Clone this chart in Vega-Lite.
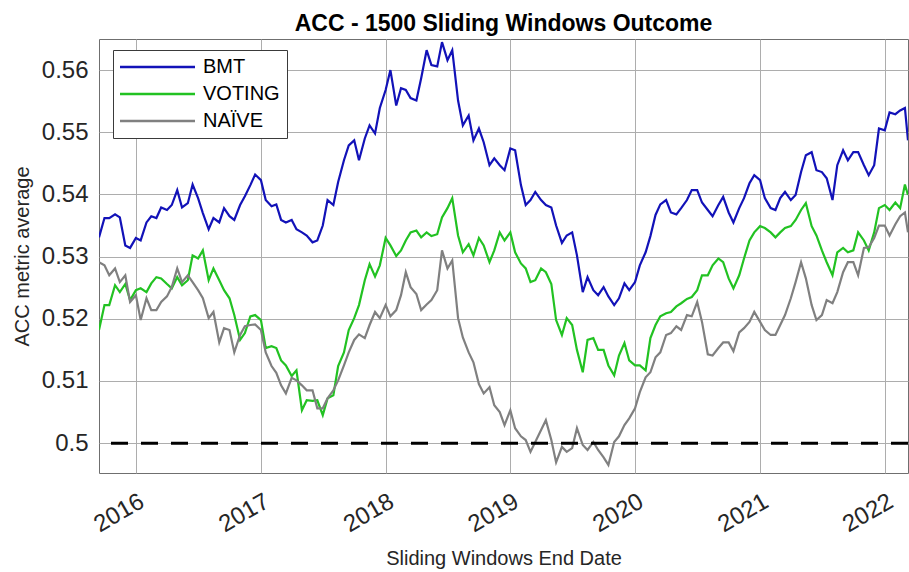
{
  "$schema": "https://vega.github.io/schema/vega-lite/v6.json",
  "autosize": {"type": "none"},
  "padding": {"left": 99, "top": 39, "right": 1, "bottom": 99},
  "width": 809,
  "height": 434,
  "background": "white",
  "config": {
    "font": "Liberation Sans",
    "view": {"stroke": "#6f6f6f", "strokeWidth": 1}
  },
  "title": {
    "text": "ACC - 1500 Sliding Windows Outcome",
    "fontSize": 23,
    "fontWeight": "bold",
    "color": "#000000",
    "font": "Liberation Sans",
    "anchor": "middle",
    "frame": "group",
    "offset": 3
  },
  "layer": [
    {
      "data": {
        "values": [
          {"date": "2015-09-15", "BMT": 0.5331, "VOTING": 0.5182, "NAÏVE": 0.5291},
          {"date": "2015-10-01", "BMT": 0.5362, "VOTING": 0.5222, "NAÏVE": 0.5286},
          {"date": "2015-10-15", "BMT": 0.5362, "VOTING": 0.5222, "NAÏVE": 0.5270},
          {"date": "2015-11-01", "BMT": 0.5368, "VOTING": 0.5254, "NAÏVE": 0.5281},
          {"date": "2015-11-15", "BMT": 0.5363, "VOTING": 0.5243, "NAÏVE": 0.5259},
          {"date": "2015-12-01", "BMT": 0.5318, "VOTING": 0.5256, "NAÏVE": 0.5270},
          {"date": "2015-12-15", "BMT": 0.5314, "VOTING": 0.5230, "NAÏVE": 0.5227},
          {"date": "2016-01-01", "BMT": 0.5330, "VOTING": 0.5246, "NAÏVE": 0.5238},
          {"date": "2016-01-15", "BMT": 0.5326, "VOTING": 0.5249, "NAÏVE": 0.5198},
          {"date": "2016-02-01", "BMT": 0.5355, "VOTING": 0.5243, "NAÏVE": 0.5233},
          {"date": "2016-02-15", "BMT": 0.5365, "VOTING": 0.5257, "NAÏVE": 0.5214},
          {"date": "2016-03-01", "BMT": 0.5362, "VOTING": 0.5267, "NAÏVE": 0.5214},
          {"date": "2016-03-15", "BMT": 0.5379, "VOTING": 0.5265, "NAÏVE": 0.5227},
          {"date": "2016-04-01", "BMT": 0.5375, "VOTING": 0.5256, "NAÏVE": 0.5236},
          {"date": "2016-04-15", "BMT": 0.5383, "VOTING": 0.5249, "NAÏVE": 0.5251},
          {"date": "2016-05-01", "BMT": 0.5407, "VOTING": 0.5267, "NAÏVE": 0.5281},
          {"date": "2016-05-15", "BMT": 0.5379, "VOTING": 0.5254, "NAÏVE": 0.5259},
          {"date": "2016-06-01", "BMT": 0.5386, "VOTING": 0.5262, "NAÏVE": 0.5270},
          {"date": "2016-06-15", "BMT": 0.5416, "VOTING": 0.5302, "NAÏVE": 0.5259},
          {"date": "2016-07-01", "BMT": 0.5394, "VOTING": 0.5297, "NAÏVE": 0.5246},
          {"date": "2016-07-15", "BMT": 0.5370, "VOTING": 0.5310, "NAÏVE": 0.5233},
          {"date": "2016-08-01", "BMT": 0.5344, "VOTING": 0.5262, "NAÏVE": 0.5201},
          {"date": "2016-08-15", "BMT": 0.5362, "VOTING": 0.5281, "NAÏVE": 0.5211},
          {"date": "2016-09-01", "BMT": 0.5355, "VOTING": 0.5262, "NAÏVE": 0.5162},
          {"date": "2016-09-15", "BMT": 0.5378, "VOTING": 0.5246, "NAÏVE": 0.5185},
          {"date": "2016-10-01", "BMT": 0.5365, "VOTING": 0.5233, "NAÏVE": 0.5182},
          {"date": "2016-10-15", "BMT": 0.5359, "VOTING": 0.5206, "NAÏVE": 0.5146},
          {"date": "2016-11-01", "BMT": 0.5383, "VOTING": 0.5166, "NAÏVE": 0.5174},
          {"date": "2016-11-15", "BMT": 0.5397, "VOTING": 0.5177, "NAÏVE": 0.5188},
          {"date": "2016-12-01", "BMT": 0.5415, "VOTING": 0.5204, "NAÏVE": 0.5190},
          {"date": "2016-12-15", "BMT": 0.5432, "VOTING": 0.5206, "NAÏVE": 0.5191},
          {"date": "2017-01-01", "BMT": 0.5423, "VOTING": 0.5198, "NAÏVE": 0.5182},
          {"date": "2017-01-15", "BMT": 0.5391, "VOTING": 0.5153, "NAÏVE": 0.5146},
          {"date": "2017-02-01", "BMT": 0.5381, "VOTING": 0.5156, "NAÏVE": 0.5124},
          {"date": "2017-02-15", "BMT": 0.5384, "VOTING": 0.5153, "NAÏVE": 0.5113},
          {"date": "2017-03-01", "BMT": 0.5359, "VOTING": 0.5133, "NAÏVE": 0.5093},
          {"date": "2017-03-15", "BMT": 0.5355, "VOTING": 0.5125, "NAÏVE": 0.5080},
          {"date": "2017-04-01", "BMT": 0.5359, "VOTING": 0.5108, "NAÏVE": 0.5105},
          {"date": "2017-04-15", "BMT": 0.5344, "VOTING": 0.5117, "NAÏVE": 0.5101},
          {"date": "2017-05-01", "BMT": 0.5339, "VOTING": 0.5053, "NAÏVE": 0.5093},
          {"date": "2017-05-15", "BMT": 0.5334, "VOTING": 0.5069, "NAÏVE": 0.5085},
          {"date": "2017-06-01", "BMT": 0.5323, "VOTING": 0.5068, "NAÏVE": 0.5085},
          {"date": "2017-06-15", "BMT": 0.5326, "VOTING": 0.5069, "NAÏVE": 0.5056},
          {"date": "2017-07-01", "BMT": 0.5350, "VOTING": 0.5045, "NAÏVE": 0.5056},
          {"date": "2017-07-15", "BMT": 0.5391, "VOTING": 0.5072, "NAÏVE": 0.5072},
          {"date": "2017-08-01", "BMT": 0.5383, "VOTING": 0.5077, "NAÏVE": 0.5085},
          {"date": "2017-08-15", "BMT": 0.5420, "VOTING": 0.5124, "NAÏVE": 0.5101},
          {"date": "2017-09-01", "BMT": 0.5455, "VOTING": 0.5146, "NAÏVE": 0.5125},
          {"date": "2017-09-15", "BMT": 0.5479, "VOTING": 0.5182, "NAÏVE": 0.5146},
          {"date": "2017-10-01", "BMT": 0.5487, "VOTING": 0.5201, "NAÏVE": 0.5166},
          {"date": "2017-10-15", "BMT": 0.5455, "VOTING": 0.5222, "NAÏVE": 0.5175},
          {"date": "2017-11-01", "BMT": 0.5490, "VOTING": 0.5262, "NAÏVE": 0.5169},
          {"date": "2017-11-15", "BMT": 0.5511, "VOTING": 0.5288, "NAÏVE": 0.5190},
          {"date": "2017-12-01", "BMT": 0.5498, "VOTING": 0.5268, "NAÏVE": 0.5211},
          {"date": "2017-12-15", "BMT": 0.5539, "VOTING": 0.5286, "NAÏVE": 0.5201},
          {"date": "2018-01-01", "BMT": 0.5568, "VOTING": 0.5330, "NAÏVE": 0.5222},
          {"date": "2018-01-15", "BMT": 0.5600, "VOTING": 0.5318, "NAÏVE": 0.5204},
          {"date": "2018-02-01", "BMT": 0.5543, "VOTING": 0.5301, "NAÏVE": 0.5214},
          {"date": "2018-02-15", "BMT": 0.5571, "VOTING": 0.5310, "NAÏVE": 0.5238},
          {"date": "2018-03-01", "BMT": 0.5568, "VOTING": 0.5326, "NAÏVE": 0.5275},
          {"date": "2018-03-15", "BMT": 0.5555, "VOTING": 0.5339, "NAÏVE": 0.5251},
          {"date": "2018-04-01", "BMT": 0.5551, "VOTING": 0.5342, "NAÏVE": 0.5240},
          {"date": "2018-04-15", "BMT": 0.5587, "VOTING": 0.5331, "NAÏVE": 0.5214},
          {"date": "2018-05-01", "BMT": 0.5632, "VOTING": 0.5339, "NAÏVE": 0.5223},
          {"date": "2018-05-15", "BMT": 0.5608, "VOTING": 0.5333, "NAÏVE": 0.5230},
          {"date": "2018-06-01", "BMT": 0.5606, "VOTING": 0.5336, "NAÏVE": 0.5246},
          {"date": "2018-06-15", "BMT": 0.5645, "VOTING": 0.5363, "NAÏVE": 0.5310},
          {"date": "2018-07-01", "BMT": 0.5616, "VOTING": 0.5378, "NAÏVE": 0.5281},
          {"date": "2018-07-15", "BMT": 0.5632, "VOTING": 0.5394, "NAÏVE": 0.5294},
          {"date": "2018-08-01", "BMT": 0.5551, "VOTING": 0.5334, "NAÏVE": 0.5201},
          {"date": "2018-08-15", "BMT": 0.5511, "VOTING": 0.5307, "NAÏVE": 0.5170},
          {"date": "2018-09-01", "BMT": 0.5527, "VOTING": 0.5320, "NAÏVE": 0.5146},
          {"date": "2018-09-15", "BMT": 0.5487, "VOTING": 0.5302, "NAÏVE": 0.5130},
          {"date": "2018-10-01", "BMT": 0.5506, "VOTING": 0.5330, "NAÏVE": 0.5095},
          {"date": "2018-10-15", "BMT": 0.5484, "VOTING": 0.5318, "NAÏVE": 0.5080},
          {"date": "2018-11-01", "BMT": 0.5447, "VOTING": 0.5291, "NAÏVE": 0.5090},
          {"date": "2018-11-15", "BMT": 0.5458, "VOTING": 0.5310, "NAÏVE": 0.5061},
          {"date": "2018-12-01", "BMT": 0.5447, "VOTING": 0.5339, "NAÏVE": 0.5050},
          {"date": "2018-12-15", "BMT": 0.5439, "VOTING": 0.5326, "NAÏVE": 0.5029},
          {"date": "2019-01-01", "BMT": 0.5474, "VOTING": 0.5339, "NAÏVE": 0.5053},
          {"date": "2019-01-15", "BMT": 0.5471, "VOTING": 0.5307, "NAÏVE": 0.5024},
          {"date": "2019-02-01", "BMT": 0.5415, "VOTING": 0.5289, "NAÏVE": 0.5011},
          {"date": "2019-02-15", "BMT": 0.5383, "VOTING": 0.5281, "NAÏVE": 0.5005},
          {"date": "2019-03-01", "BMT": 0.5391, "VOTING": 0.5259, "NAÏVE": 0.4986},
          {"date": "2019-03-15", "BMT": 0.5404, "VOTING": 0.5262, "NAÏVE": 0.5002},
          {"date": "2019-04-01", "BMT": 0.5391, "VOTING": 0.5281, "NAÏVE": 0.5021},
          {"date": "2019-04-15", "BMT": 0.5383, "VOTING": 0.5275, "NAÏVE": 0.5037},
          {"date": "2019-05-01", "BMT": 0.5379, "VOTING": 0.5256, "NAÏVE": 0.5005},
          {"date": "2019-05-15", "BMT": 0.5350, "VOTING": 0.5198, "NAÏVE": 0.4969},
          {"date": "2019-06-01", "BMT": 0.5322, "VOTING": 0.5174, "NAÏVE": 0.4994},
          {"date": "2019-06-15", "BMT": 0.5334, "VOTING": 0.5201, "NAÏVE": 0.4986},
          {"date": "2019-07-01", "BMT": 0.5339, "VOTING": 0.5190, "NAÏVE": 0.4992},
          {"date": "2019-07-15", "BMT": 0.5302, "VOTING": 0.5150, "NAÏVE": 0.5024},
          {"date": "2019-08-01", "BMT": 0.5243, "VOTING": 0.5114, "NAÏVE": 0.4997},
          {"date": "2019-08-15", "BMT": 0.5267, "VOTING": 0.5166, "NAÏVE": 0.4989},
          {"date": "2019-09-01", "BMT": 0.5246, "VOTING": 0.5169, "NAÏVE": 0.5002},
          {"date": "2019-09-15", "BMT": 0.5238, "VOTING": 0.5150, "NAÏVE": 0.4989},
          {"date": "2019-10-01", "BMT": 0.5251, "VOTING": 0.5150, "NAÏVE": 0.4977},
          {"date": "2019-10-15", "BMT": 0.5236, "VOTING": 0.5125, "NAÏVE": 0.4965},
          {"date": "2019-11-01", "BMT": 0.5222, "VOTING": 0.5109, "NAÏVE": 0.5002},
          {"date": "2019-11-15", "BMT": 0.5233, "VOTING": 0.5141, "NAÏVE": 0.5011},
          {"date": "2019-12-01", "BMT": 0.5257, "VOTING": 0.5161, "NAÏVE": 0.5029},
          {"date": "2019-12-15", "BMT": 0.5246, "VOTING": 0.5133, "NAÏVE": 0.5040},
          {"date": "2020-01-01", "BMT": 0.5259, "VOTING": 0.5125, "NAÏVE": 0.5056},
          {"date": "2020-01-15", "BMT": 0.5286, "VOTING": 0.5125, "NAÏVE": 0.5082},
          {"date": "2020-02-01", "BMT": 0.5307, "VOTING": 0.5117, "NAÏVE": 0.5106},
          {"date": "2020-02-15", "BMT": 0.5333, "VOTING": 0.5169, "NAÏVE": 0.5114},
          {"date": "2020-03-01", "BMT": 0.5367, "VOTING": 0.5190, "NAÏVE": 0.5138},
          {"date": "2020-03-15", "BMT": 0.5384, "VOTING": 0.5204, "NAÏVE": 0.5146},
          {"date": "2020-04-01", "BMT": 0.5391, "VOTING": 0.5209, "NAÏVE": 0.5174},
          {"date": "2020-04-15", "BMT": 0.5371, "VOTING": 0.5211, "NAÏVE": 0.5177},
          {"date": "2020-05-01", "BMT": 0.5368, "VOTING": 0.5220, "NAÏVE": 0.5188},
          {"date": "2020-05-15", "BMT": 0.5378, "VOTING": 0.5225, "NAÏVE": 0.5182},
          {"date": "2020-06-01", "BMT": 0.5391, "VOTING": 0.5232, "NAÏVE": 0.5206},
          {"date": "2020-06-15", "BMT": 0.5407, "VOTING": 0.5235, "NAÏVE": 0.5204},
          {"date": "2020-07-01", "BMT": 0.5407, "VOTING": 0.5246, "NAÏVE": 0.5227},
          {"date": "2020-07-15", "BMT": 0.5387, "VOTING": 0.5270, "NAÏVE": 0.5195},
          {"date": "2020-08-01", "BMT": 0.5375, "VOTING": 0.5270, "NAÏVE": 0.5143},
          {"date": "2020-08-15", "BMT": 0.5365, "VOTING": 0.5286, "NAÏVE": 0.5141},
          {"date": "2020-09-01", "BMT": 0.5383, "VOTING": 0.5297, "NAÏVE": 0.5153},
          {"date": "2020-09-15", "BMT": 0.5396, "VOTING": 0.5291, "NAÏVE": 0.5162},
          {"date": "2020-10-01", "BMT": 0.5371, "VOTING": 0.5265, "NAÏVE": 0.5162},
          {"date": "2020-10-15", "BMT": 0.5355, "VOTING": 0.5249, "NAÏVE": 0.5148},
          {"date": "2020-11-01", "BMT": 0.5378, "VOTING": 0.5270, "NAÏVE": 0.5178},
          {"date": "2020-11-15", "BMT": 0.5394, "VOTING": 0.5297, "NAÏVE": 0.5185},
          {"date": "2020-12-01", "BMT": 0.5418, "VOTING": 0.5326, "NAÏVE": 0.5195},
          {"date": "2020-12-15", "BMT": 0.5431, "VOTING": 0.5339, "NAÏVE": 0.5211},
          {"date": "2021-01-01", "BMT": 0.5423, "VOTING": 0.5349, "NAÏVE": 0.5195},
          {"date": "2021-01-15", "BMT": 0.5394, "VOTING": 0.5346, "NAÏVE": 0.5182},
          {"date": "2021-02-01", "BMT": 0.5378, "VOTING": 0.5339, "NAÏVE": 0.5174},
          {"date": "2021-02-15", "BMT": 0.5375, "VOTING": 0.5331, "NAÏVE": 0.5174},
          {"date": "2021-03-01", "BMT": 0.5394, "VOTING": 0.5339, "NAÏVE": 0.5190},
          {"date": "2021-03-15", "BMT": 0.5404, "VOTING": 0.5346, "NAÏVE": 0.5206},
          {"date": "2021-04-01", "BMT": 0.5391, "VOTING": 0.5349, "NAÏVE": 0.5233},
          {"date": "2021-04-15", "BMT": 0.5399, "VOTING": 0.5359, "NAÏVE": 0.5259},
          {"date": "2021-05-01", "BMT": 0.5436, "VOTING": 0.5375, "NAÏVE": 0.5291},
          {"date": "2021-05-15", "BMT": 0.5463, "VOTING": 0.5386, "NAÏVE": 0.5265},
          {"date": "2021-06-01", "BMT": 0.5468, "VOTING": 0.5349, "NAÏVE": 0.5222},
          {"date": "2021-06-15", "BMT": 0.5439, "VOTING": 0.5334, "NAÏVE": 0.5198},
          {"date": "2021-07-01", "BMT": 0.5436, "VOTING": 0.5310, "NAÏVE": 0.5206},
          {"date": "2021-07-15", "BMT": 0.5426, "VOTING": 0.5291, "NAÏVE": 0.5230},
          {"date": "2021-08-01", "BMT": 0.5391, "VOTING": 0.5270, "NAÏVE": 0.5225},
          {"date": "2021-08-15", "BMT": 0.5447, "VOTING": 0.5307, "NAÏVE": 0.5243},
          {"date": "2021-09-01", "BMT": 0.5471, "VOTING": 0.5314, "NAÏVE": 0.5275},
          {"date": "2021-09-15", "BMT": 0.5455, "VOTING": 0.5307, "NAÏVE": 0.5291},
          {"date": "2021-10-01", "BMT": 0.5468, "VOTING": 0.5310, "NAÏVE": 0.5291},
          {"date": "2021-10-15", "BMT": 0.5468, "VOTING": 0.5339, "NAÏVE": 0.5270},
          {"date": "2021-11-01", "BMT": 0.5447, "VOTING": 0.5326, "NAÏVE": 0.5314},
          {"date": "2021-11-15", "BMT": 0.5431, "VOTING": 0.5310, "NAÏVE": 0.5315},
          {"date": "2021-12-01", "BMT": 0.5447, "VOTING": 0.5339, "NAÏVE": 0.5330},
          {"date": "2021-12-15", "BMT": 0.5506, "VOTING": 0.5378, "NAÏVE": 0.5350},
          {"date": "2022-01-01", "BMT": 0.5503, "VOTING": 0.5383, "NAÏVE": 0.5350},
          {"date": "2022-01-15", "BMT": 0.5532, "VOTING": 0.5375, "NAÏVE": 0.5334},
          {"date": "2022-02-01", "BMT": 0.5529, "VOTING": 0.5387, "NAÏVE": 0.5352},
          {"date": "2022-02-15", "BMT": 0.5535, "VOTING": 0.5378, "NAÏVE": 0.5365},
          {"date": "2022-03-01", "BMT": 0.5539, "VOTING": 0.5416, "NAÏVE": 0.5371},
          {"date": "2022-03-10", "BMT": 0.5487, "VOTING": 0.5399, "NAÏVE": 0.5339}
        ]
      },
      "transform": [{"fold": ["BMT", "VOTING", "NAÏVE"], "as": ["model", "acc"]}],
      "mark": {"type": "line", "strokeWidth": 2.2, "clip": true},
      "encoding": {
        "x": {
          "field": "date",
          "type": "temporal",
          "scale": {
            "type": "utc",
            "domain": [
              {"year": 2015, "month": 9, "date": 15, "utc": true},
              {"year": 2022, "month": 3, "date": 10, "utc": true}
            ]
          },
          "axis": {
            "values": [
              {"year": 2016, "month": 1, "date": 1, "utc": true},
              {"year": 2017, "month": 1, "date": 1, "utc": true},
              {"year": 2018, "month": 1, "date": 1, "utc": true},
              {"year": 2019, "month": 1, "date": 1, "utc": true},
              {"year": 2020, "month": 1, "date": 1, "utc": true},
              {"year": 2021, "month": 1, "date": 1, "utc": true},
              {"year": 2022, "month": 1, "date": 1, "utc": true}
            ],
            "format": "%Y",
            "labelAngle": -30,
            "labelAlign": "right",
            "labelBaseline": "top",
            "labelOffset": 0,
            "labelPadding": 16,
            "labelFontSize": 24,
            "labelFont": "Liberation Sans",
            "labelColor": "#262626",
            "labelFlush": false,
            "labelOverlap": false,
            "labelBound": false,
            "ticks": false,
            "domain": false,
            "grid": true,
            "gridColor": "#adadad",
            "gridWidth": 1,
            "title": "Sliding Windows End Date",
            "titleFont": "Liberation Sans",
            "titleFontSize": 20,
            "titleFontWeight": "normal",
            "titleColor": "#262626",
            "titlePadding": 12
          }
        },
        "y": {
          "field": "acc",
          "type": "quantitative",
          "scale": {"domain": [0.4952, 0.565], "nice": false, "zero": false},
          "axis": {
            "values": [0.5, 0.51, 0.52, 0.53, 0.54, 0.55, 0.56],
            "format": ".2~f",
            "labelFontSize": 24,
            "labelFont": "Liberation Sans",
            "labelColor": "#262626",
            "labelPadding": 11,
            "ticks": false,
            "domain": false,
            "grid": true,
            "gridColor": "#adadad",
            "gridWidth": 1,
            "title": "ACC metric average",
            "titleFont": "Liberation Sans",
            "titleFontSize": 20,
            "titleFontWeight": "normal",
            "titleColor": "#262626",
            "titlePadding": 9
          }
        },
        "color": {
          "field": "model",
          "type": "nominal",
          "scale": {
            "domain": ["BMT", "VOTING", "NAÏVE"],
            "range": ["#1212b8", "#22c222", "#808080"]
          },
          "legend": {
            "title": null,
            "orient": "none",
            "legendX": 14,
            "legendY": 11,
            "direction": "vertical",
            "symbolType": "M-5,0H5",
            "symbolSize": 225,
            "symbolStrokeWidth": 2.5,
            "symbolOffset": 27.5,
            "labelFontSize": 20,
            "labelFont": "Liberation Sans",
            "labelColor": "#000000",
            "labelOffset": 35.5,
            "padding": 7,
            "rowPadding": 7,
            "fillColor": "#ffffff",
            "strokeColor": "#3a3a3a",
            "cornerRadius": 0
          }
        }
      }
    },
    {
      "data": {"values": [{"level": 0.5}]},
      "mark": {"type": "rule", "color": "#000000", "strokeWidth": 3, "strokeDash": [17, 13]},
      "encoding": {"y": {"field": "level", "type": "quantitative"}}
    }
  ]
}
